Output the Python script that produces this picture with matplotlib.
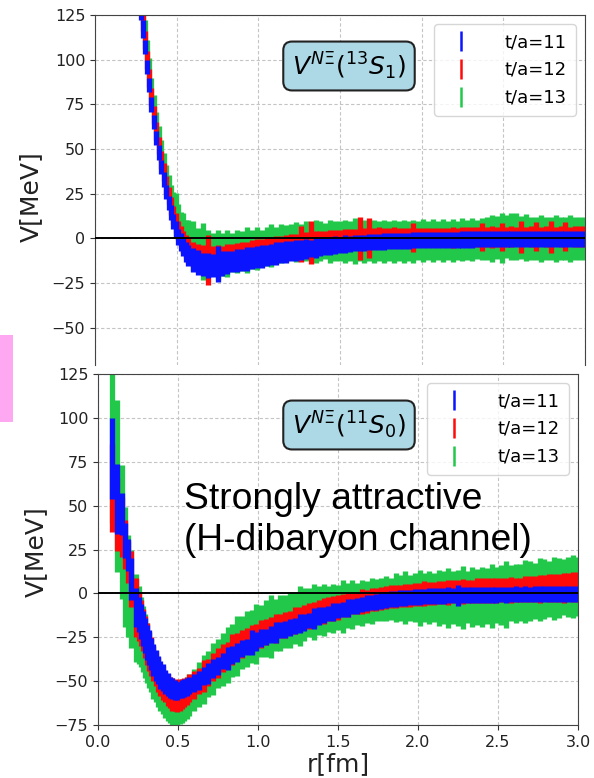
import numpy as np
import matplotlib
matplotlib.use("Agg")
import matplotlib.pyplot as plt
from matplotlib.lines import Line2D
from matplotlib.patches import Rectangle

nan = np.nan

# lattice distances [fm], shared by both panels
r_fm = [
    0.085, 0.12, 0.147, 0.17, 0.19, 0.208, 0.24, 0.254, 0.268, 0.281,
    0.293, 0.305, 0.317, 0.33, 0.345, 0.36, 0.375, 0.39, 0.405, 0.42,
    0.435, 0.45, 0.465, 0.48, 0.495, 0.51, 0.525, 0.54, 0.555, 0.57,
    0.60, 0.63, 0.66, 0.69, 0.72, 0.75, 0.78, 0.81, 0.84, 0.87,
    0.90, 0.93, 0.96, 0.99, 1.02, 1.05, 1.08, 1.11, 1.14, 1.17,
    1.20, 1.23, 1.26, 1.29, 1.32, 1.35, 1.38, 1.41, 1.44, 1.47,
    1.50, 1.53, 1.56, 1.59, 1.62, 1.65, 1.68, 1.71, 1.74, 1.77,
    1.80, 1.83, 1.86, 1.89, 1.92, 1.95, 1.98, 2.01, 2.04, 2.07,
    2.10, 2.13, 2.16, 2.19, 2.22, 2.25, 2.28, 2.31, 2.34, 2.37,
    2.40, 2.43, 2.46, 2.49, 2.52, 2.55, 2.58, 2.61, 2.64, 2.67,
    2.70, 2.73, 2.76, 2.79, 2.82, 2.85, 2.88, 2.91, 2.94, 2.97,
    3.00,
]

# ---- 3S1 channel (top panel) ----
s1_v11 = [
    nan, nan, nan, nan, nan, nan, 170, 150, 139, 127,
    117, 107, 96, 86, 75, 65, 56, 48, 40, 33,
    26, 20, 14.5, 9.5, 5, 1, -2, -5, -7.5, -9.5,
    -12, -13.5, -14.5, -15, -15, -14.5, -14, -13.5, -13, -12.5,
    -12, -11.5, -11, -10.5, -10, -9.5, -9, -8.5, -8, -7.5,
    -7, -6.8, -6.5, -6, -5.6, -5.2, -4.8, -4.5, -4.2, -3.9,
    -3.6, -3.3, -3, -2.8, -2.6, -2.4, -2.2, -2, -1.8, -1.7,
    -1.6, -1.5, -1.4, -1.3, -1.2, -1.1, -1, -1, -0.9, -0.9,
    -0.8, -0.8, -0.7, -0.7, -0.7, -0.6, -0.6, -0.6, -0.5, -0.5,
    -0.5, -0.5, -0.5, -0.4, -0.4, -0.4, -0.4, -0.4, -0.4, -0.4,
    -0.4, -0.4, -0.4, -0.4, -0.4, -0.4, -0.4, -0.4, -0.4, -0.4,
    -0.4,
]
s1_e11 = [
    5, 5, 5, 5, 5, 5, 5, 5, 5, 5,
    5, 4, 4, 4, 4, 4, 4, 4, 4, 4,
    4, 4, 4, 4, 4.5, 4.5, 5, 5, 5.5, 6,
    6.5, 7, 6.5, 7, 6.5, 10, 7, 6.5, 6, 6.5,
    6, 6.5, 6, 6, 6.5, 6, 6, 6.5, 6, 6,
    5.5, 6, 5.5, 5.5, 5, 5.5, 5, 5, 5, 5,
    4.5, 5, 4.5, 4.5, 4.5, 4.5, 4.5, 4.5, 4.5, 4.5,
    4.5, 4.5, 4.5, 4.5, 4.5, 4.5, 4.5, 4.5, 4.5, 4.5,
    4.5, 4.5, 4.5, 4.5, 4.5, 4.5, 4.5, 4.5, 4.5, 4.5,
    4.5, 4.5, 4.5, 4.5, 4.5, 4.5, 4.5, 4.5, 4.5, 4.5,
    4.5, 4.5, 4.5, 4.5, 4.5, 4.5, 4.5, 4.5, 4.5, 4.5,
    4.5,
]
s1_v12 = [
    nan, nan, nan, nan, nan, nan, 175, 155, 143, 131,
    121, 111, 100, 90, 79, 69, 60, 52, 44, 37,
    30, 24, 18, 13, 8.5, 4.5, 1, -2, -4.5, -6.5,
    -9, -10.5, -11.5, -12, -12, -11.5, -11, -10.5, -10, -9.5,
    -9, -8.5, -8, -7.5, -7, -6.5, -6, -5.5, -5, -4.5,
    -4, -3.5, -3, -2.5, -2.2, -2, -1.8, -1.5, -1.2, -1,
    -0.8, -0.5, -0.3, 0, 0, 0.2, 0.3, 0.4, 0.5, 0.5,
    0.5, 0.5, 0.5, 0.5, 0.5, 0.5, 0.5, 0.5, 0.5, 0.5,
    0.5, 0.5, 0.6, 0.6, 0.6, 0.7, 0.7, 0.7, 0.8, 0.8,
    0.8, 0.8, 0.9, 0.9, 0.9, 1, 1, 1, 1, 1,
    1, 1, 1, 1, 1, 1, 1, 1, 1, 1,
    1,
]
s1_e12 = [
    5, 5, 5, 5, 5, 5, 5, 5, 5, 5,
    5, 5, 5, 5, 5, 5, 5, 5, 5, 5,
    5, 5, 5, 5, 5.5, 5.5, 6, 6, 6.5, 7,
    7, 7.5, 8, 14, 7.5, 8, 7, 7.5, 7, 7,
    7, 6.5, 7, 7, 6.5, 7, 6.5, 7, 6.5, 6.5,
    6.5, 6, 10, 6, 12, 6, 6, 5.5, 6, 5.5,
    5.5, 6, 5.5, 5.5, 12, 5.5, 11, 5.5, 6, 5.5,
    5.5, 6, 5.5, 5.5, 5.5, 8, 5.5, 5.5, 5.5, 5.5,
    5.5, 5.5, 5.5, 6, 5.5, 5.5, 5.5, 5.5, 5.5, 8,
    5.5, 6, 5.5, 8, 5.5, 6, 5.5, 9, 5.5, 6,
    8, 5.5, 6, 9, 5.5, 6, 8, 5.5, 6, 6,
    6,
]
s1_v13 = [
    nan, nan, nan, nan, nan, nan, 180, 160, 148, 136,
    126, 116, 105, 95, 84, 74, 65, 57, 49, 42,
    35, 29, 23, 18, 13.5, 9.5, 6, 3, 0.5, -1.5,
    -4, -6, -7.5, -8.5, -9, -9, -9, -8.5, -8, -7.5,
    -7, -6.5, -6, -5.5, -5, -4.5, -4, -3.5, -3, -2.5,
    -2.2, -2, -1.8, -1.5, -1.5, -1.5, -1.5, -1.5, -1.5, -1.5,
    -1.5, -1.5, -1.5, -1.5, -1.5, -1.5, -1.5, -1.5, -1.5, -1.5,
    -1.5, -1.5, -1.5, -1.5, -1.5, -1.5, -1.2, -1.2, -1.2, -1.2,
    -1, -1, -1, -1, -1, -0.8, -0.8, -0.5, -0.5, -0.3,
    0, 0, 0.5, 0.5, 1, 1, 1, 0.5, 0.5, 0,
    0, 0, 0, 0, 0, 0, 0, 0, 0, 0,
    0,
]
s1_e13 = [
    6, 6, 6, 6, 6, 6, 6, 6, 6, 6,
    6, 6, 6, 6, 6, 6, 6, 6, 6, 6,
    6, 6.5, 7, 8, 12, 10, 9, 11, 10, 12,
    14, 12, 16, 13, 12, 14, 12, 13, 11, 12,
    11, 13, 11, 12, 10, 11, 12, 10, 11, 10,
    10, 11, 10, 11, 10, 12, 11, 10, 12, 11,
    11, 12, 11, 13, 11, 12, 11, 12, 11, 12,
    11, 12, 11, 12, 11, 12, 11, 12, 11, 12,
    11, 12, 11, 12, 11, 12, 11, 12, 11, 12,
    12, 13, 12, 14, 12, 13, 13, 12, 13, 12,
    12, 13, 12, 12, 13, 12, 12, 13, 12, 12,
    12,
]

# ---- 1S0 channel (bottom panel) ----
s0_v11 = [
    77, 54, 45, 30, 22, 8, -8, -12, -16, -20,
    -24, -28, -31, -34.5, -38, -41, -43.5, -46.5, -48, -50.5,
    -52, -53.5, -54, -55, -55.5, -55, -54.5, -54, -53.5, -52.5,
    -51, -49.5, -47, -45.5, -43, -41.5, -38.5, -37, -35, -33.5,
    -31.5, -30.5, -28, -27.5, -25.5, -25, -23.5, -22.5, -21, -20.5,
    -19.5, -18.5, -17, -16.5, -15.5, -14.5, -13, -12.5, -11.5, -10.5,
    -9.8, -9.2, -8.2, -7.5, -7, -6.3, -5.6, -5.2, -4.8, -4.3,
    -4, -3.4, -3.2, -2.8, -2.7, -2.3, -2.2, -1.9, -1.8, -1.6,
    -1.5, -1.3, -1.3, -1.1, -1.2, -1, -1, -0.9, -0.9, -0.8,
    -0.8, -0.7, -0.8, -0.7, -0.6, -0.7, -0.6, -0.5, -0.6, -0.5,
    -0.6, -0.5, -0.4, -0.5, -0.5, -0.4, -0.5, -0.4, -0.5, -0.4,
    -0.5,
]
s0_e11 = [
    23, 20, 12, 10, 9, 12, 11, 10, 10, 10,
    10, 10, 10, 9, 9, 9, 8, 8, 7.5, 7,
    6.5, 6, 6, 5.5, 5, 4.5, 5, 5, 5, 5,
    5, 5.5, 5, 6, 5.5, 5, 4.5, 6.5, 5, 5.5,
    5, 4.5, 7, 5.5, 5, 4.5, 5, 6, 4.5, 5,
    5, 4.5, 5.5, 5, 4.5, 6, 5, 4.5, 4.5, 5,
    4.5, 4.5, 5, 4.5, 4.5, 4.5, 4.5, 4.5, 4.5, 4.5,
    4.5, 4.5, 4.5, 4.5, 4.5, 4.5, 4.5, 4.5, 4.5, 4.5,
    4.5, 4.5, 4.5, 4.5, 4.5, 6, 4.5, 4.5, 4.5, 4.5,
    4.5, 4.5, 4.5, 4.5, 4.5, 4.5, 4.5, 4.5, 4.5, 4.5,
    4.5, 4.5, 4.5, 4.5, 4.5, 4.5, 4.5, 4.5, 4.5, 4.5,
    4.5,
]
s0_v12 = [
    60, 45, 38, 28, 18, 8, -8, -13, -17, -21,
    -25, -29, -33, -36, -40, -43, -46, -49, -51, -53,
    -55, -56.5, -57.5, -58, -58.5, -58, -57.5, -56.5, -55.5, -54,
    -52, -50, -47, -45, -42, -39.5, -37, -35, -32, -30.5,
    -29, -27, -26, -24.5, -23, -22, -20.5, -20, -18.5, -18,
    -17, -15.5, -15, -13.5, -13, -12, -10.5, -10, -9, -8.5,
    -8, -7, -6.5, -5.5, -5.5, -4.5, -4.5, -3.5, -3.5, -3,
    -2.5, -2, -2, -1.5, -1, -1, -0.5, -0.5, 0, 0,
    0, 0.5, 0.5, 0.5, 1, 1, 1, 1, 1, 1.5,
    1.5, 1.5, 1.5, 1.5, 2, 2, 2, 2, 2, 2.5,
    2.5, 2.5, 2.5, 3, 3, 3, 3, 3, 3.5, 3.5,
    3.5,
]
s0_e12 = [
    25, 21, 17, 14, 12, 16, 17, 14, 13, 12,
    12, 12, 11, 11, 10, 10, 10, 9.5, 9.5, 9,
    9, 9, 9.5, 9, 9, 9, 8.5, 8.5, 8, 8,
    8, 7.5, 9, 7.5, 8, 8.5, 8, 7.5, 9, 8,
    8, 7.5, 8, 7, 8, 7.5, 7, 8, 7, 7.5,
    7, 7.5, 7, 7, 7.5, 7, 7, 7.5, 7, 7,
    7, 6.5, 7, 6.5, 6.5, 7, 6.5, 6.5, 6.5, 6.5,
    6.5, 6.5, 6.5, 6.5, 6.5, 6.5, 6.5, 6.5, 7, 6.5,
    6.5, 6.5, 6.5, 7, 6.5, 6.5, 7, 6.5, 6.5, 7,
    7, 7, 7, 7, 7, 7, 7.5, 7, 7, 7.5,
    7.5, 7.5, 8, 7.5, 8, 8, 8, 8.5, 8, 8.5,
    8.5,
]
s0_v13 = [
    90, 61, 35, 15, 4, -3, -14, -18, -22, -26,
    -30, -34, -38, -41, -45, -48, -51, -54, -56, -58,
    -60, -61.5, -62.5, -63, -63, -62.5, -62, -61, -59.5, -58,
    -55, -52, -49, -46, -43, -40, -37.5, -35, -32.5, -30,
    -28, -26, -24.5, -23, -21.5, -20, -19, -18, -17, -16,
    -15, -14, -13, -12, -11, -10.5, -10, -9.5, -9, -8.5,
    -8, -7.5, -7, -6.5, -6, -5.5, -5, -4.5, -4, -3.5,
    -3, -3, -2.5, -2.5, -2.5, -2.5, -2.5, -2.5, -2.5, -2.5,
    -2.5, -2.5, -2.5, -2.5, -2.5, -2.5, -2.5, -2, -2, -2,
    -2, -1.5, -1.5, -1, -1, -0.5, 0, 0, 0.5, 1,
    1.5, 1.5, 2, 2.5, 2.5, 3, 3, 3.5, 3.5, 4,
    4,
]
s0_e13 = [
    50, 49, 38, 34, 29, 28, 25, 22, 20, 19,
    18, 17, 16, 15, 15, 14, 14, 13, 13, 13,
    13, 12.5, 12.5, 12, 12.5, 12, 12, 12, 12, 12,
    12, 13, 14, 13, 15, 14, 15, 16, 15, 17,
    15, 16, 15, 17, 15, 16, 18, 15, 16, 15,
    16, 15, 17, 15, 14, 16, 14, 15, 13, 14,
    13, 15, 13, 14, 12, 13, 12, 13, 12, 12,
    13, 12, 14, 13, 15, 13, 14, 16, 14, 15,
    14, 16, 15, 17, 15, 16, 18, 15, 17, 16,
    17, 16, 18, 16, 17, 19, 16, 17, 16, 18,
    17, 16, 18, 17, 16, 18, 17, 16, 17, 18,
    17,
]

labels = ["t/a=11", "t/a=12", "t/a=13"]
colors = ["#0a14ff", "#ff0a0a", "#22c84a"]


def draw_panel(ax, series, ymin, ymax):
    # green first, blue on top
    for (v, e), color in reversed(list(zip(series, colors))):
        ax.errorbar(r_fm, v, yerr=e, fmt="none", ecolor=color,
                    elinewidth=3.8, capsize=0, zorder=2)
    ax.axhline(0, color="black", lw=1.4, zorder=5)
    ax.set_yticks(np.arange(-75, 126, 25))
    ax.set_xticks(np.arange(0, 3.01, 0.5))
    ax.set_xlim(0, 3.0)
    ax.set_ylim(ymin, ymax)
    ax.grid(True, ls=(0, (3, 2)), color="#c4c4c4", lw=0.8, zorder=0)
    ax.set_axisbelow(True)
    ax.tick_params(labelsize=11.5, color="#333333", labelcolor="#222222")
    for sp in ax.spines.values():
        sp.set_color("#444444")
    handles = [Line2D([], [], color=c, marker="|", ls="none", markersize=14,
                      markeredgewidth=1.8) for c in colors]
    ax.legend(handles, labels, loc="upper right", fontsize=13,
              handletextpad=1.4, labelspacing=0.55, borderpad=0.5)


fig = plt.figure(figsize=(5.94, 7.78), dpi=100)
W, H = 594, 778

ax_top = fig.add_axes([95 / W, 1 - 365 / H, 490 / W, 350 / H])
draw_panel(ax_top, [(s1_v11, s1_e11), (s1_v12, s1_e12), (s1_v13, s1_e13)], -70.8, 125)
ax_top.spines["bottom"].set_visible(False)
ax_top.tick_params(axis="x", bottom=False, labelbottom=False)

ax_bot = fig.add_axes([98 / W, 1 - 725 / H, 480 / W, 351 / H])
draw_panel(ax_bot, [(s0_v11, s0_e11), (s0_v12, s0_e12), (s0_v13, s0_e13)], -75, 125)

box = dict(boxstyle="round,pad=0.35", facecolor="#add8e6", edgecolor="#222222", lw=1.5)
fig.text(349 / W, 1 - 66 / H, r"$V^{N\Xi}(^{13}S_1)$", fontsize=18,
         ha="center", va="center", bbox=box)
fig.text(349 / W, 1 - 425 / H, r"$V^{N\Xi}(^{11}S_0)$", fontsize=18,
         ha="center", va="center", bbox=box)

fig.text(184 / W, 1 - 520 / H, "Strongly attractive\n(H-dibaryon channel)",
         fontsize=26.8, family="Liberation Sans", ha="left", va="center",
         linespacing=1.22)

fig.text(31 / W, 1 - 197 / H, "V[MeV]", fontsize=18, rotation=90,
         ha="center", va="center", color="#222222")
fig.text(36 / W, 1 - 552 / H, "V[MeV]", fontsize=18, rotation=90,
         ha="center", va="center", color="#222222")
fig.text(338 / W, 1 - 764 / H, "r[fm]", fontsize=18, ha="center", va="center",
         color="#222222")

fig.patches.append(Rectangle((0, 1 - 422 / H), 13 / W, 87 / H,
                             transform=fig.transFigure, facecolor="#ffa8f2",
                             edgecolor="none"))

fig.savefig("out.png", dpi=100)
